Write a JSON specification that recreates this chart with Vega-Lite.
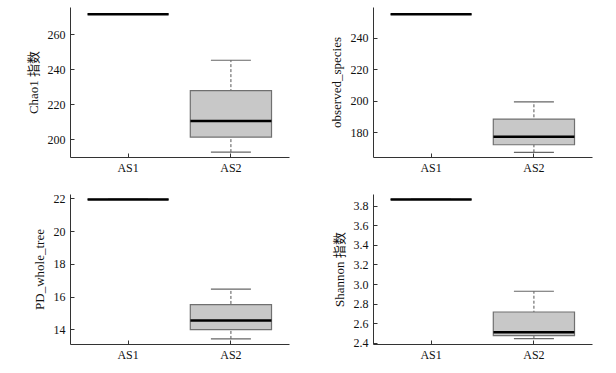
{
  "$schema": "https://vega.github.io/schema/vega-lite/v6.json",
  "background": "white",
  "padding": {"left": 27, "top": 7, "right": 5, "bottom": 5},
  "config": {
    "view": {"stroke": null},
    "tick": {"opacity": 1},
    "axis": {
      "labelFont": "Liberation Serif",
      "labelFontSize": 12,
      "labelColor": "#111",
      "labelOverlap": false,
      "labelFlush": false,
      "titleFont": "Liberation Serif, Noto Sans CJK SC",
      "titleFontSize": 13,
      "titleFontWeight": "normal",
      "titleColor": "#111",
      "domainColor": "#333",
      "tickColor": "#333",
      "grid": false,
      "tickSize": -4,
      "labelPadding": 9,
      "titlePadding": 7
    }
  },
  "datasets": {
    "alpha": [
      {"metric": "chao1", "group": "AS1", "lower": 271.5, "q1": 271.5, "median": 271.5, "q3": 271.5, "upper": 271.5},
      {"metric": "chao1", "group": "AS2", "lower": 192.5, "q1": 201.1, "median": 210.3, "q3": 227.7, "upper": 245.1},
      {"metric": "observed", "group": "AS1", "lower": 255.1, "q1": 255.1, "median": 255.1, "q3": 255.1, "upper": 255.1},
      {"metric": "observed", "group": "AS2", "lower": 167.3, "q1": 172.1, "median": 177.2, "q3": 188.4, "upper": 199.3},
      {"metric": "pd", "group": "AS1", "lower": 21.94, "q1": 21.94, "median": 21.94, "q3": 21.94, "upper": 21.94},
      {"metric": "pd", "group": "AS2", "lower": 13.41, "q1": 13.98, "median": 14.53, "q3": 15.51, "upper": 16.45},
      {"metric": "shannon", "group": "AS1", "lower": 3.865, "q1": 3.865, "median": 3.865, "q3": 3.865, "upper": 3.865},
      {"metric": "shannon", "group": "AS2", "lower": 2.441, "q1": 2.472, "median": 2.506, "q3": 2.714, "upper": 2.926}
    ]
  },
  "data": {"name": "alpha"},
  "columns": 2,
  "bounds": "flush",
  "spacing": {"column": 84, "row": 37},
  "concat": [
    {
      "width": 219, "height": 150,
      "transform": [{"filter": "datum.metric === 'chao1'"}],
      "encoding": {
        "x": {"field": "group", "type": "nominal", "scale": {"paddingInner": 0.21, "paddingOuter": 0.17}, "axis": {"title": null, "labelAngle": 0}},
        "y": {"field": "lower", "type": "quantitative", "scale": {"domain": [189.7, 275.6], "nice": false, "zero": false}, "axis": {"title": "Chao1 指数", "values": [200, 220, 240, 260], "labelOverlap": false, "tickCount": 4}}
      },
      "layer": [
        {"mark": {"type": "rule", "strokeDash": [3, 2], "color": "#555", "strokeWidth": 1}, "encoding": {"y2": {"field": "upper"}}},
        {"mark": {"type": "tick", "size": 40, "thickness": 1.2, "color": "#666"}},
        {"mark": {"type": "tick", "size": 40, "thickness": 1.2, "color": "#666"}, "encoding": {"y": {"field": "upper", "type": "quantitative"}}},
        {"mark": {"type": "bar", "fill": "#c8c8c8", "stroke": "#707070", "strokeWidth": 1.2}, "encoding": {"y": {"field": "q1", "type": "quantitative"}, "y2": {"field": "q3"}}},
        {"mark": {"type": "tick", "size": 81, "thickness": 2.5, "color": "#000"}, "encoding": {"y": {"field": "median", "type": "quantitative"}}}
      ]
    },
    {
      "width": 219, "height": 150,
      "transform": [{"filter": "datum.metric === 'observed'"}],
      "encoding": {
        "x": {"field": "group", "type": "nominal", "scale": {"paddingInner": 0.21, "paddingOuter": 0.17}, "axis": {"title": null, "labelAngle": 0}},
        "y": {"field": "lower", "type": "quantitative", "scale": {"domain": [164.3, 259.7], "nice": false, "zero": false}, "axis": {"title": "observed_species", "values": [180, 200, 220, 240], "labelOverlap": false, "tickCount": 4}}
      },
      "layer": [
        {"mark": {"type": "rule", "strokeDash": [3, 2], "color": "#555", "strokeWidth": 1}, "encoding": {"y2": {"field": "upper"}}},
        {"mark": {"type": "tick", "size": 40, "thickness": 1.2, "color": "#666"}},
        {"mark": {"type": "tick", "size": 40, "thickness": 1.2, "color": "#666"}, "encoding": {"y": {"field": "upper", "type": "quantitative"}}},
        {"mark": {"type": "bar", "fill": "#c8c8c8", "stroke": "#707070", "strokeWidth": 1.2}, "encoding": {"y": {"field": "q1", "type": "quantitative"}, "y2": {"field": "q3"}}},
        {"mark": {"type": "tick", "size": 81, "thickness": 2.5, "color": "#000"}, "encoding": {"y": {"field": "median", "type": "quantitative"}}}
      ]
    },
    {
      "width": 219, "height": 150,
      "transform": [{"filter": "datum.metric === 'pd'"}],
      "encoding": {
        "x": {"field": "group", "type": "nominal", "scale": {"paddingInner": 0.21, "paddingOuter": 0.17}, "axis": {"title": null, "labelAngle": 0}},
        "y": {"field": "lower", "type": "quantitative", "scale": {"domain": [13.1, 22.27], "nice": false, "zero": false}, "axis": {"title": "PD_whole_tree", "values": [14, 16, 18, 20, 22], "labelOverlap": false, "tickCount": 5}}
      },
      "layer": [
        {"mark": {"type": "rule", "strokeDash": [3, 2], "color": "#555", "strokeWidth": 1}, "encoding": {"y2": {"field": "upper"}}},
        {"mark": {"type": "tick", "size": 40, "thickness": 1.2, "color": "#666"}},
        {"mark": {"type": "tick", "size": 40, "thickness": 1.2, "color": "#666"}, "encoding": {"y": {"field": "upper", "type": "quantitative"}}},
        {"mark": {"type": "bar", "fill": "#c8c8c8", "stroke": "#707070", "strokeWidth": 1.2}, "encoding": {"y": {"field": "q1", "type": "quantitative"}, "y2": {"field": "q3"}}},
        {"mark": {"type": "tick", "size": 81, "thickness": 2.5, "color": "#000"}, "encoding": {"y": {"field": "median", "type": "quantitative"}}}
      ]
    },
    {
      "width": 219, "height": 150,
      "transform": [{"filter": "datum.metric === 'shannon'"}],
      "encoding": {
        "x": {"field": "group", "type": "nominal", "scale": {"paddingInner": 0.21, "paddingOuter": 0.17}, "axis": {"title": null, "labelAngle": 0}},
        "y": {"field": "lower", "type": "quantitative", "scale": {"domain": [2.387, 3.92], "nice": false, "zero": false}, "axis": {"title": "Shannon 指数", "values": [2.4, 2.6, 2.8, 3.0, 3.2, 3.4, 3.6, 3.8], "format": ".1f", "labelOverlap": false, "tickCount": 8}}
      },
      "layer": [
        {"mark": {"type": "rule", "strokeDash": [3, 2], "color": "#555", "strokeWidth": 1}, "encoding": {"y2": {"field": "upper"}}},
        {"mark": {"type": "tick", "size": 40, "thickness": 1.2, "color": "#666"}},
        {"mark": {"type": "tick", "size": 40, "thickness": 1.2, "color": "#666"}, "encoding": {"y": {"field": "upper", "type": "quantitative"}}},
        {"mark": {"type": "bar", "fill": "#c8c8c8", "stroke": "#707070", "strokeWidth": 1.2}, "encoding": {"y": {"field": "q1", "type": "quantitative"}, "y2": {"field": "q3"}}},
        {"mark": {"type": "tick", "size": 81, "thickness": 2.5, "color": "#000"}, "encoding": {"y": {"field": "median", "type": "quantitative"}}}
      ]
    }
  ]
}
